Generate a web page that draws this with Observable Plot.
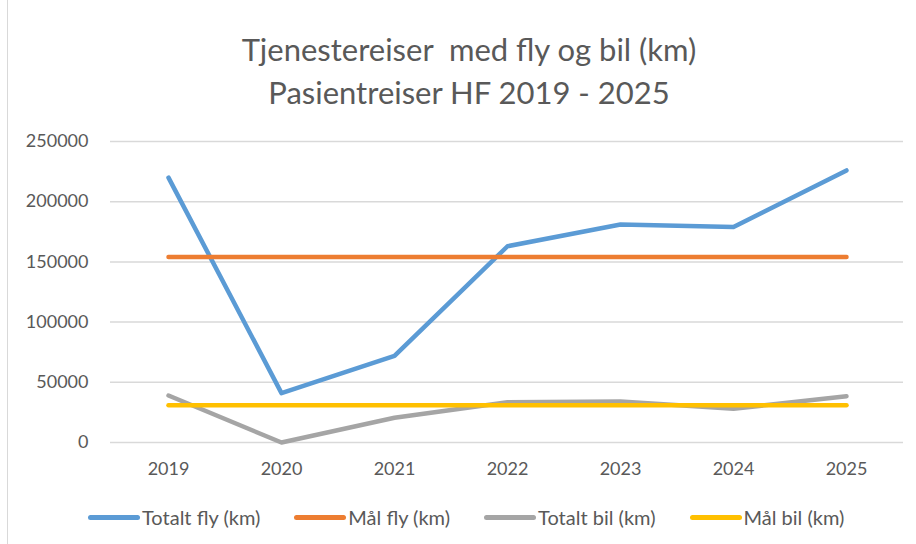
<!DOCTYPE html>
<html>
<head>
<meta charset="utf-8">
<script src="https://cdn.jsdelivr.net/npm/d3@7"></script>
<script src="https://cdn.jsdelivr.net/npm/@observablehq/plot@0.6"></script>
<style>
  html, body { margin: 0; padding: 0; background: #fff; }
  body { width: 916px; height: 544px; overflow: hidden; position: relative; font-family: Lato, "Open Sans", sans-serif; color: #595959; }
  #frame { position: absolute; left: 7px; top: -2px; width: 920px; height: 560px; border: 1px solid #d9d9d9; box-sizing: border-box; pointer-events: none; }
  #title { text-align: center; font-size: 31px; line-height: 43px; padding-top: 28px; height: 86px; padding-left: 22px; white-space: nowrap; }
  #legend { display: flex; align-items: center; height: 54px; padding-left: 88px; font-size: 20px; }
  .item { display: flex; align-items: center; }
  .sw { width: 52px; height: 5px; border-radius: 3px; margin-right: 2px; }
</style>
</head>
<body>
<div id="frame"></div>
<div id="title">Tjenestereiser&nbsp; med fly og bil (km)<br>Pasientreiser HF 2019 - 2025</div>
<div id="chart"></div>
<div id="legend"></div>
<script>
const years = ["2019", "2020", "2021", "2022", "2023", "2024", "2025"];
const seriesNames = ["Totalt fly (km)", "Mål fly (km)", "Totalt bil (km)", "Mål bil (km)"];
const totaltFly = [220000, 41000, 72000, 163000, 181000, 179000, 226000];
const maalFly = [154000, 154000, 154000, 154000, 154000, 154000, 154000];
const totaltBil = [39000, 0, 20500, 33500, 34000, 28000, 38500];
const maalBil = [31000, 31000, 31000, 31000, 31000, 31000, 31000];
const yTicks = [0, 50000, 100000, 150000, 200000, 250000];
const colors = ["#5B9BD5", "#ED7D31", "#A5A5A5", "#FFC000"];

const seriesValues = [totaltFly, maalFly, totaltBil, maalBil];
const data = seriesNames.flatMap((name, i) =>
  years.map((year, j) => ({ series: name, year, value: seriesValues[i][j] }))
);

const plot = Plot.plot({
  width: 916,
  height: 376,
  marginTop: 27,
  marginBottom: 48,
  marginLeft: 110,
  marginRight: 13,
  style: { fontFamily: "Lato, 'Open Sans', sans-serif", fontSize: "18px", color: "#595959", background: "transparent" },
  x: { type: "point", domain: years, padding: 0.5, label: null },
  y: { domain: [0, 250000], label: null },
  color: { domain: seriesNames, range: colors },
  marks: [
    Plot.gridY(yTicks, { stroke: "#d9d9d9", strokeOpacity: 1, strokeWidth: 1.5 }),
    Plot.axisY(yTicks, { tickSize: 0, tickPadding: 22, tickFormat: d => String(d), fontSize: 18, fill: "#595959", label: null }),
    Plot.axisX({ tickSize: 0, tickPadding: 20, fontSize: 18, fill: "#595959", label: null }),
    Plot.line(data, { x: "year", y: "value", z: "series", stroke: "series", strokeWidth: 4.5, strokeLinecap: "round", strokeLinejoin: "round" })
  ]
});
document.getElementById("chart").appendChild(plot);

const legend = document.getElementById("legend");
seriesNames.forEach((name, i) => {
  const item = document.createElement("div");
  item.className = "item";
  item.style.marginRight = "34px";
  const sw = document.createElement("div");
  sw.className = "sw";
  sw.style.background = colors[i];
  const t = document.createElement("span");
  t.textContent = name;
  item.appendChild(sw);
  item.appendChild(t);
  legend.appendChild(item);
});
</script>
</body>
</html>
